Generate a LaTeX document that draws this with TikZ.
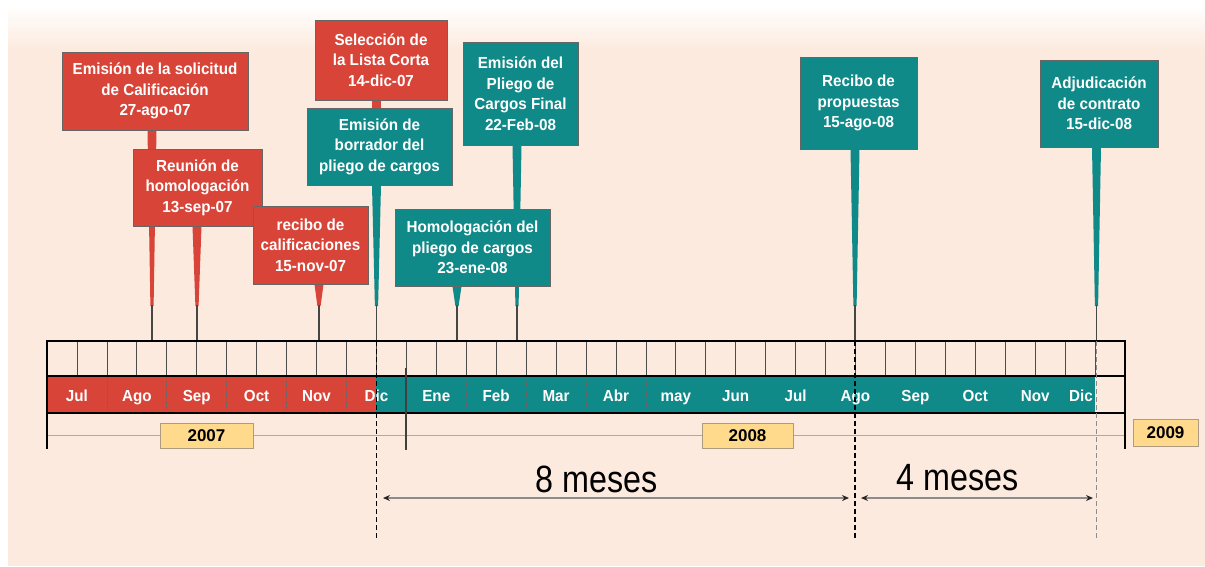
\documentclass[tikz,border=0pt]{standalone}
\usepackage{fontspec}
\setmainfont{Liberation Sans}
\newfontfamily\cond[FakeStretch=0.95]{Liberation Sans}
\newfontfamily\condn[FakeStretch=0.85]{Liberation Sans}
\usetikzlibrary{arrows.meta,calc}
\definecolor{cred}{RGB}{216,68,56}
\definecolor{cteal}{RGB}{16,137,137}
\definecolor{bgc}{RGB}{252,234,222}
\definecolor{yrfill}{RGB}{255,218,140}
\definecolor{yrdraw}{RGB}{175,155,130}
\definecolor{yrline}{RGB}{185,165,155}
\definecolor{stemdark}{RGB}{70,70,70}
\pgfdeclarelayer{back}
\pgfdeclarelayer{bg}
\pgfsetlayers{back,bg,main}
\tikzset{
 evbox/.style={rectangle, draw=black!60, line width=0.8pt, text=white, align=center, inner sep=0pt,
   font=\cond\bfseries\fontsize{16}{20.5}\selectfont},
 redbox/.style={evbox, fill=cred},
 tealbox/.style={evbox, fill=cteal},
 monlbl/.style={text=white, font=\cond\bfseries\fontsize{16}{18}\selectfont, inner sep=0pt, anchor=base},
 yrbox/.style={rectangle, fill=yrfill, draw=yrdraw, line width=0.8pt, font=\bfseries\fontsize{17}{18}\selectfont, inner sep=0pt},
 frame/.style={black, line width=1.8pt},
 tickline/.style={black!70, line width=0.7pt},
 monsep/.style={black!60, line width=0.6pt, dash pattern=on 1.5pt off 1pt},
 vdash/.style={black, line width=1.2pt, dash pattern=on 5pt off 3pt},
 vdashgray/.style={black!45, line width=1.4pt, dash pattern=on 5pt off 3pt},
 spanarrow/.style={draw=black!45, line width=1.5pt,
   {Stealth[length=7pt,width=6pt,color=black!85]}-{Stealth[length=7pt,width=6pt,color=black!85]}},
 meslbl/.style={font=\condn\fontsize{38}{40}\selectfont, inner sep=0pt},
}
% tapered pin stem: #1 top point, #2 bottom point, #3 colour
\newcommand\pinstem[3]{%
 \fill[#3] ($(#1)+(-4.5,0)$) -- ($(#1)+(4.5,0)$) -- ($(#2)+(1.6,-35)$) -- ($(#2)+(-1.6,-35)$) -- cycle;
 \draw[stemdark, line width=1.8pt] ($(#2)+(0,-36)$) -- (#2);
}
\begin{document}
\begin{tikzpicture}[x=1pt,y=-1pt]
\useasboundingbox (0,0) rectangle (1205,566);
\begin{pgfonlayer}{back}
 \fill[white] (0,0) rectangle (1205,566);
 \shade[top color=white, bottom color=bgc] (8,5) rectangle (1205,50);
 \fill[bgc] (8,50) rectangle (1205,566);
\end{pgfonlayer}

% ---- timeline ----
\fill[cred] (47,376) rectangle (376,413);
\fill[cteal] (376,376) rectangle (1095,413);
\foreach \k in {1,...,35} \draw[tickline] ({47+\k*29.944},341) -- ({47+\k*29.944},376);
\foreach \k in {1,...,17} \draw[monsep] ({47+\k*59.889},376) -- ({47+\k*59.889},413);
\draw[yrline, line width=1pt] (47,435) -- (1125,435);
\draw[frame] (47,341) -- (1125,341);
\draw[frame] (47,376) -- (1125,376);
\draw[frame] (47,413) -- (1125,413);
\draw[frame] (47,340) -- (47,449);
\draw[frame] (1125,340) -- (1125,449);
\draw[black!75, line width=2.2pt] (406,368) -- (406,450);
\foreach \m [count=\i from 0] in {Jul,Ago,Sep,Oct,Nov,Dic,Ene,Feb,Mar,Abr,may,Jun,Jul,Ago,Sep,Oct,Nov}
  \node[monlbl] (mon\i) at ({47+(\i+0.5)*59.889},401) {\m};
\node[monlbl] (mon17) at (1081,401) {Dic};

\node[yrbox, minimum width=93pt, minimum height=25pt] (y2007) at (206.5,435.5) {2007};
\node[yrbox, minimum width=91pt, minimum height=25pt] (y2008) at (747.5,435.5) {2008};
\node[yrbox, minimum width=65pt, minimum height=27pt] (y2009) at (1165.5,433) {2009};

% ---- event boxes ----
\node[redbox, minimum width=186pt, minimum height=78pt] (b1) at (155,91)
  {Emisión de la solicitud\\de Calificación\\27-ago-07};
\node[redbox, minimum width=129pt, minimum height=77pt] (b2) at (197.5,187.5)
  {Reunión de\\homologación\\13-sep-07};
\node[redbox, minimum width=115pt, minimum height=78pt] (b3) at (310.5,245)
  {recibo de\\calificaciones\\15-nov-07};
\node[redbox, minimum width=132pt, minimum height=80pt] (b4) at (381,60)
  {Selección de\\la Lista Corta\\14-dic-07};
\node[tealbox, minimum width=145pt, minimum height=77pt] (b5) at (379.5,146.5)
  {Emisión de\\borrador del\\pliego de cargos};
\node[tealbox, minimum width=115pt, minimum height=103pt] (b6) at (520.5,93.5)
  {Emisión del\\Pliego de\\Cargos Final\\22-Feb-08};
\node[tealbox, minimum width=155pt, minimum height=77pt] (b7) at (472.5,247.5)
  {Homologación del\\pliego de cargos\\23-ene-08};
\node[tealbox, minimum width=117pt, minimum height=92pt] (b8) at (858.5,103)
  {Recibo de\\propuestas\\15-ago-08};
\node[tealbox, minimum width=118pt, minimum height=87pt] (b9) at (1099,103.5)
  {Adjudicación\\de contrato\\15-dic-08};

% ---- timeline anchor points ----
\coordinate (p1) at (152,341);
\coordinate (p2) at (197,341);
\coordinate (p3) at (319,341);
\coordinate (p5) at (376.5,341);
\coordinate (p6) at (517,341);
\coordinate (p7) at (457,341);
\coordinate (p8) at (855,341);
\coordinate (p9) at (1096.5,341);
\coordinate (q5) at (376.5,540);
\coordinate (q8) at (855,540);
\coordinate (q9) at (1096.5,540);

\coordinate (s1) at (b1.south -| p1);
\coordinate (s2) at (b2.south -| p2);
\coordinate (s3) at (b3.south -| p3);
\coordinate (s5) at (b5.south -| p5);
\coordinate (s6) at (b6.south -| p6);
\coordinate (s7) at (b7.south -| p7);
\coordinate (s8) at (b8.south -| p8);
\coordinate (s9) at (b9.south -| p9);
\coordinate (s4) at (b4.south -| p5);
\coordinate (t4) at (b5.north -| p5);

\begin{pgfonlayer}{bg}
 \pinstem{s1}{p1}{cred}
 \pinstem{s2}{p2}{cred}
 \pinstem{s3}{p3}{cred}
 \pinstem{s5}{p5}{cteal}
 \pinstem{s6}{p6}{cteal}
 \pinstem{s7}{p7}{cteal}
 \pinstem{s8}{p8}{cteal}
 \pinstem{s9}{p9}{cteal}
 \fill[cred] ($(s4)+(-4.5,0)$) rectangle ($(t4)+(4.5,0)$);
\end{pgfonlayer}

% ---- dashed markers and spans ----
\draw[vdash] (p5) -- (q5);
\draw[vdash] (p8) -- (q8);
\draw[vdashgray] (p9) -- (q9);

\coordinate (a1l) at (383,498);
\coordinate (a1r) at (849,498);
\coordinate (a2l) at (861,498);
\coordinate (a2r) at (1093,498);
\draw[spanarrow] (a1l) -- (a1r);
\draw[spanarrow] (a2l) -- (a2r);
\node[meslbl, anchor=base] (t8) at (597,492) {8 meses};
\node[meslbl, anchor=base] (t4m) at (958,490) {4 meses};
\end{tikzpicture}
\end{document}
